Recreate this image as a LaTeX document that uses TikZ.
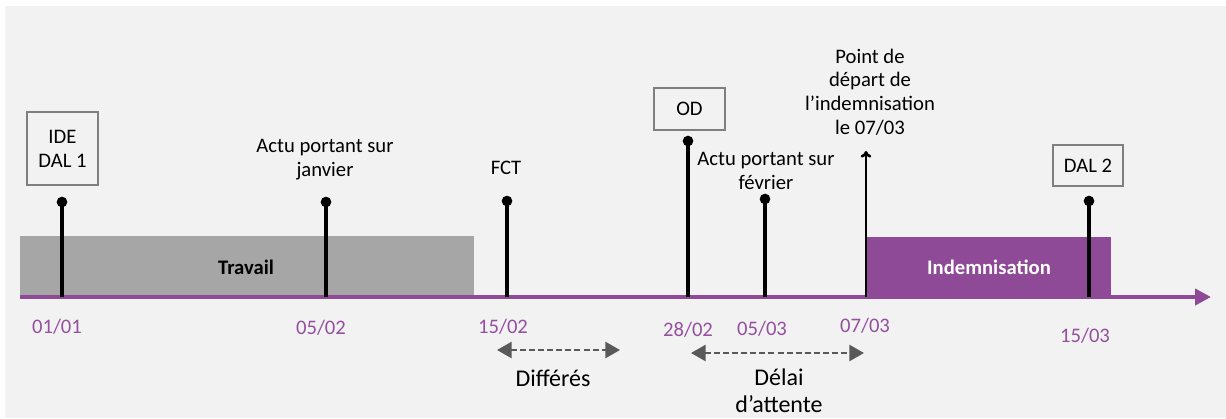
\documentclass[tikz,border=0pt]{standalone}
\usepackage{fontspec}
\setmainfont{Carlito}
\usepackage{tikz}
\usetikzlibrary{positioning,arrows.meta,calc}
\definecolor{bg}{HTML}{F2F2F2}
\definecolor{plum}{HTML}{8E4A96}
\definecolor{plumtxt}{HTML}{9550A0}
\definecolor{work}{HTML}{A6A6A6}
\definecolor{frame}{HTML}{7F7F7F}
\definecolor{span}{HTML}{595959}
\tikzset{
  txt/.style={font=\fontsize{15.5}{17.8}\selectfont, align=center, inner sep=0pt, text=black},
  biglbl/.style={txt, font=\fontsize{18}{20.2}\selectfont},
  datelbl/.style={txt, text=plumtxt},
  evbox/.style={txt, draw=frame, line width=1.5pt, minimum width=53pt, minimum height=31pt},
  stem/.style={line width=2.3pt, color=black},
  pin/.style={circle, fill=black, inner sep=0pt, minimum size=8pt},
  axis/.style={-{Triangle[length=12pt,width=12pt]}, line width=3pt, color=plum},
  gap/.style={{Triangle[length=11pt,width=12pt]}-{Triangle[length=11pt,width=12pt]},
    line width=2pt, color=span, dash pattern=on 4.5pt off 2.3pt},
  band/.style={fill=#1},
}

\begin{document}
\begin{tikzpicture}[x=0.75pt,y=-0.75pt]
  \useasboundingbox (0,0) rectangle (1226,418);
  \fill[bg] (5,6) rectangle (1226,418);

  % periods
  \fill[band=work] (20,236) rectangle (474,297);
  \fill[band=plum] (867,237) rectangle (1111,297);
  \node[txt, font=\fontsize{15.5}{17.8}\selectfont\bfseries] (travail) at (246,267) {Travail};
  \node[txt, font=\fontsize{15.5}{17.8}\selectfont\bfseries, text=white] (indem) at (989,267) {Indemnisation};

  % time axis
  \coordinate (start) at (20,297);
  \coordinate (end) at (1211,297);
  \draw[axis] (start) -- (end);

  % events
  \coordinate (t1) at (62,297);
  \coordinate (t2) at (326,297);
  \coordinate (t3) at (507,297);
  \coordinate (t4) at (688,297);
  \coordinate (t5) at (765,297);
  \coordinate (t6) at (866,297);
  \coordinate (t7) at (1089,297);
  \node[pin] (p1) at (62,202) {};
  \node[pin] (p2) at (326,202) {};
  \node[pin] (p3) at (507,201) {};
  \node[pin] (p4) at (688,141) {};
  \node[pin] (p5) at (765,199) {};
  \coordinate (p6) at (866,151);
  \node[pin] (p7) at (1089,201) {};
  \foreach \i in {1,2,3,4,5,7}
    \draw[stem] (p\i.center) -- (t\i);
  \draw[stem, line width=2pt, -{To[length=5pt,width=8pt]}] (t6) -- (p6);

  \node[evbox, minimum height=55pt] (ide) at (62.5,148.5) {IDE\\DAL 1};
  \node[evbox] (od) at (689.5,109) {OD};
  \node[evbox] (dal) at (1088,165.5) {DAL 2};

  \node[txt] (actu1) at (325,160) {Actu portant sur\\janvier};
  \node[txt] (fct) at (506,168) {FCT};
  \node[txt] (actu2) at (766,171) {Actu portant sur\\février};
  \node[txt] (depart) at (870,92) {Point de\\départ de\\l’indemnisation\\le 07/03};

  % dates
  \node[datelbl] (d1) at (57,327) {01/01};
  \node[datelbl] (d2) at (321,328) {05/02};
  \node[datelbl] (d3) at (503,327) {15/02};
  \node[datelbl] (d4) at (688,330) {28/02};
  \node[datelbl] (d5) at (762,329) {05/03};
  \node[datelbl] (d6) at (865,326) {07/03};
  \node[datelbl] (d7) at (1085,336) {15/03};

  % durations
  \coordinate (dfa) at (497,350);
  \coordinate (dfb) at (620,350);
  \draw[gap] (dfa) -- (dfb);
  \node[biglbl] (differes) at (553,378) {Différés};
  \coordinate (dla) at (691,353);
  \coordinate (dlb) at (864,353);
  \draw[gap] (dla) -- (dlb);
  \node[biglbl] (delai) at (779,391) {Délai\\d’attente};
\end{tikzpicture}
\end{document}
